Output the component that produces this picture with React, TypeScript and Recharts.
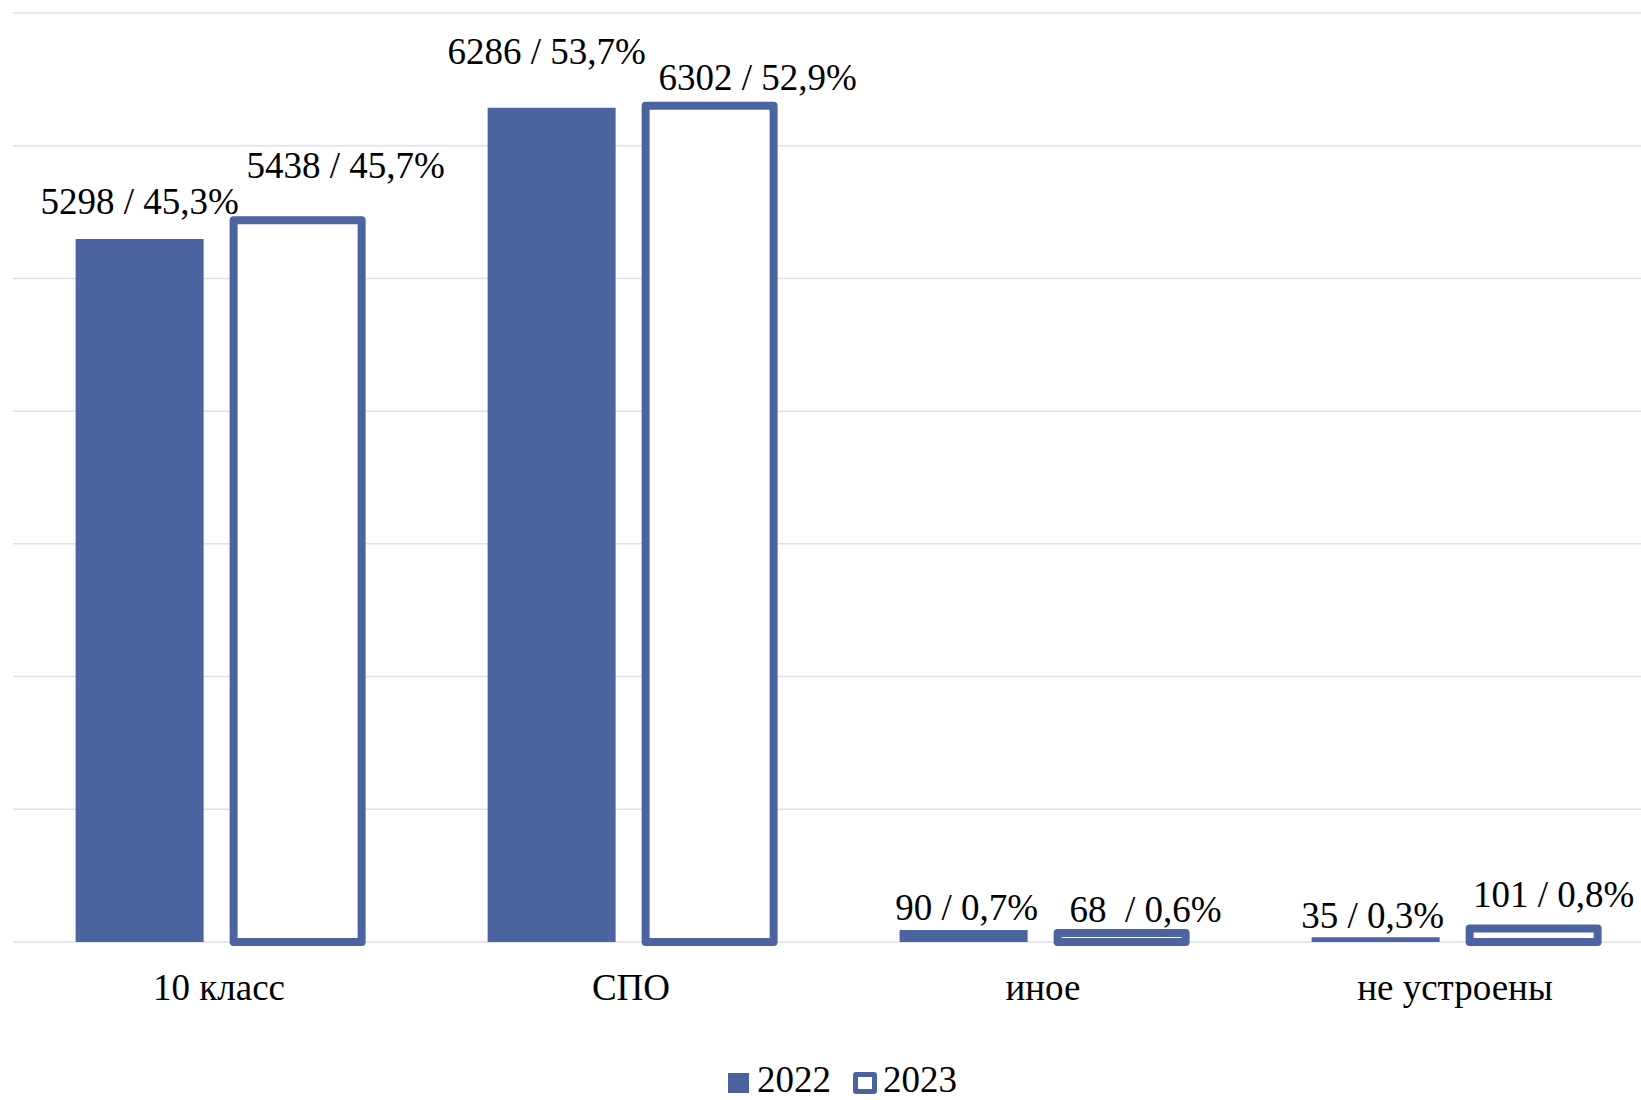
import React from 'react';
import { BarChart, Bar, XAxis, YAxis, CartesianGrid, Legend, LabelList } from 'recharts';

const categories = ['10 класс', 'СПО', 'иное', 'не устроены'];
const values2022 = [5298, 6286, 90, 35];
const values2023 = [5438, 6302, 68, 101];
const labels2022 = ['5298 / 45,3%', '6286 / 53,7%', '90 / 0,7%', '35 / 0,3%'];
const labels2023 = ['5438 / 45,7%', '6302 / 52,9%', '68  / 0,6%', '101 / 0,8%'];
const yTicks = [0, 1000, 2000, 3000, 4000, 5000, 6000, 7000];

// labels were hand-placed in the original: [dx from bar centre, gap above bar top]
const labelShift2022 = [[0, 25], [-5, 44], [3, 10], [-3, 9]];
const labelShift2023 = [[48, 42], [48, 16], [24, 11], [20, 22]];

const FONT = '"Liberation Serif", "Times New Roman", serif';
const BLUE = '#4b64a0';
const FS = 37;

const data = categories.map((name, i) => ({
  name,
  y2022: values2022[i],
  y2023: values2023[i],
}));

const makeLabel = (texts: string[], shifts: number[][]) => (props: any) => {
  const { x, y, width, index } = props;
  const [dx, gap] = shifts[index];
  return (
    <text
      x={x + width / 2 + dx}
      y={y - gap}
      textAnchor="middle"
      fontSize={FS}
      fontFamily={FONT}
      fill="#000"
      style={{ whiteSpace: 'pre' }}
    >
      {texts[index]}
    </text>
  );
};

const CategoryTick = (props: any) => {
  const { x, y, payload } = props;
  return (
    <text x={x} y={y + 58} textAnchor="middle" fontSize={FS} fontFamily={FONT} fill="#000">
      {payload.value}
    </text>
  );
};

const LegendBox = () => (
  <div style={{ position: 'relative', height: 58, width: 1641, fontFamily: FONT, fontSize: FS, color: '#000' }}>
    <div style={{ position: 'absolute', left: 728, top: 31, width: 21, height: 20, background: BLUE }} />
    <span style={{ position: 'absolute', left: 757, top: 16, lineHeight: '44px' }}>2022</span>
    <div
      style={{
        position: 'absolute', left: 853, top: 30, width: 14, height: 12,
        border: `5px solid ${BLUE}`, borderRadius: 3, background: '#fff',
      }}
    />
    <span style={{ position: 'absolute', left: 883, top: 16, lineHeight: '44px' }}>2023</span>
  </div>
);

export default function App() {
  return (
    <div style={{ position: 'absolute', left: 0, top: 0, width: 1641, height: 1100, overflow: 'hidden', background: '#fff' }}>
      <BarChart
        width={1680}
        height={1100}
        data={data}
        margin={{ top: 13, right: 19, bottom: 0, left: 13 }}
        barCategoryGap="15.2%"
        barGap={30}
      >
        <CartesianGrid vertical={false} stroke="#dde1ea" strokeWidth={1.5} />
        <XAxis
          dataKey="name"
          axisLine={false}
          tickLine={false}
          tickSize={0}
          tickMargin={0}
          height={100}
          interval={0}
          tick={<CategoryTick />}
        />
        <YAxis hide domain={[0, 7000]} ticks={yTicks} />
        <Legend
          verticalAlign="bottom"
          content={<LegendBox />}
          wrapperStyle={{ left: 0, width: 1641 }}
        />
        <Bar dataKey="y2022" name="2022" fill={BLUE} isAnimationActive={false}>
          <LabelList dataKey="y2022" content={makeLabel(labels2022, labelShift2022)} />
        </Bar>
        <Bar
          dataKey="y2023"
          name="2023"
          fill="#fff"
          stroke={BLUE}
          strokeWidth={8}
          strokeLinejoin="round"
          isAnimationActive={false}
        >
          <LabelList dataKey="y2023" content={makeLabel(labels2023, labelShift2023)} />
        </Bar>
      </BarChart>
    </div>
  );
}
